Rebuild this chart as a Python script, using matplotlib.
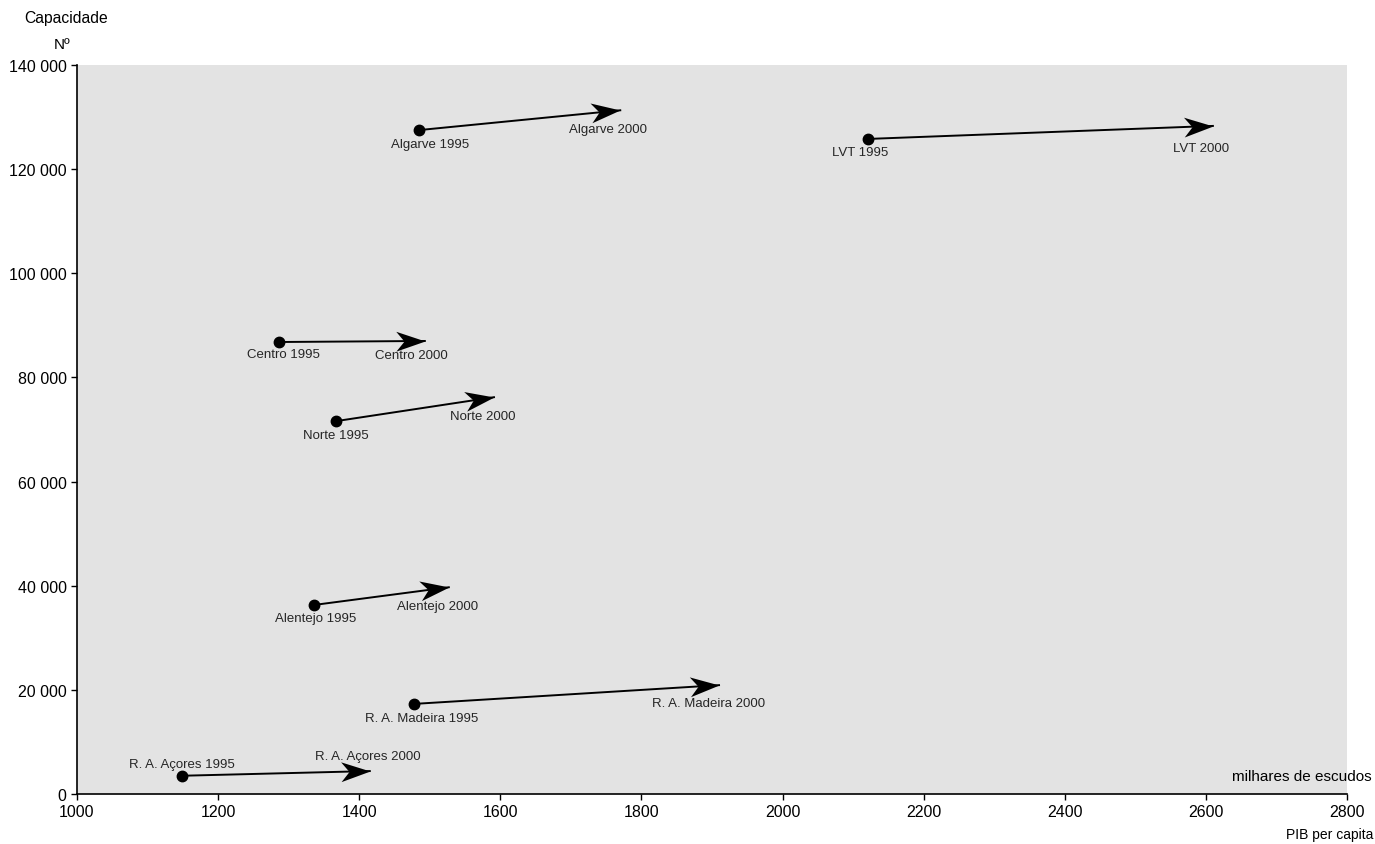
import numpy as np
import matplotlib.pyplot as plt
import matplotlib.ticker as mticker
from matplotlib.path import Path
from matplotlib.markers import MarkerStyle
from matplotlib.transforms import Affine2D

plt.rcParams['font.family'] = ['Liberation Sans', 'DejaVu Sans']

# dados: PIB per capita (milhares de escudos) e capacidade (Nº)
regioes = ['Algarve', 'LVT', 'Centro', 'Norte', 'Alentejo', 'R. A. Madeira', 'R. A. Açores']
pib_1995 = [1485, 2121, 1286, 1367, 1336, 1478, 1149]
cap_1995 = [127500, 125800, 86800, 71600, 36300, 17300, 3500]
pib_2000 = [1770, 2610, 1493, 1591, 1527, 1910, 1415]
cap_2000 = [131300, 128300, 87000, 76200, 39700, 20900, 4400]

# deslocamento dos rótulos (pixels) -> 1995 e 2000
off_95 = [(11, -14), (-8, -13), (5, -12), (0, -14), (2, -13), (7, -14), (0, 12)]
off_00 = [(-12, -19), (-12, -22), (-13, -14), (-11, -19), (-11, -19), (-10, -18), (-2, 15)]

fig = plt.figure(figsize=(13.75, 8.45), dpi=100)
ax = fig.add_axes([0.056, 0.0592, 0.9236, 0.8627])
ax.set_facecolor('#e3e3e3')

ax.set_xlim(1000, 2800)
ax.set_ylim(0, 140000)
ax.set_xticks(range(1000, 2801, 200))
ax.set_yticks(range(0, 140001, 20000))
ax.yaxis.set_major_formatter(mticker.FuncFormatter(lambda v, p: f'{int(v):,}'.replace(',', ' ')))
ax.tick_params(labelsize=11.5, length=4, width=1, color='black')
for s in ['top', 'right']:
    ax.spines[s].set_visible(False)
for s in ['left', 'bottom']:
    ax.spines[s].set_linewidth(1.2)

# ponta de seta tipo "stealth" (ponta em 0,0)
cabeca = Path([(0, 0), (-1, 0.34), (-0.72, 0), (-1, -0.34), (0, 0)],
              [Path.MOVETO, Path.LINETO, Path.LINETO, Path.LINETO, Path.CLOSEPOLY])

px = 0.72  # 1 pixel em pontos
for i, nome in enumerate(regioes):
    ax.plot([pib_1995[i], pib_2000[i]], [cap_1995[i], cap_2000[i]], color='black', lw=1.4, zorder=3)
    p0 = ax.transData.transform((pib_1995[i], cap_1995[i]))
    p1 = ax.transData.transform((pib_2000[i], cap_2000[i]))
    ang = np.degrees(np.arctan2(p1[1] - p0[1], p1[0] - p0[0]))
    m = MarkerStyle(cabeca, transform=Affine2D().rotate_deg(ang))
    ax.plot(pib_2000[i], cap_2000[i], marker=m, markersize=42, color='black', mew=0, zorder=4)
    ax.plot(pib_1995[i], cap_1995[i], 'o', color='black', markersize=7.5, zorder=5)
    dx, dy = off_95[i]
    ax.annotate(nome + ' 1995', (pib_1995[i], cap_1995[i]), xytext=(dx * px, dy * px),
                textcoords='offset points', ha='center', va='center', fontsize=9.5, color='#262626')
    dx, dy = off_00[i]
    ax.annotate(nome + ' 2000', (pib_2000[i], cap_2000[i]), xytext=(dx * px, dy * px),
                textcoords='offset points', ha='center', va='center', fontsize=9.5, color='#262626')

fig.text(66 / 1375, 1 - 18 / 845, 'Capacidade', ha='center', va='center', fontsize=11.3)
fig.text(62 / 1375, 1 - 45 / 845, 'Nº', ha='center', va='center', fontsize=11)
fig.text(1372 / 1375, 1 - 777 / 845, 'milhares de escudos', ha='right', va='center', fontsize=11)
fig.text(1330 / 1375, 1 - 835 / 845, 'PIB per capita', ha='center', va='center', fontsize=10)

plt.savefig('out.png', dpi=100)
